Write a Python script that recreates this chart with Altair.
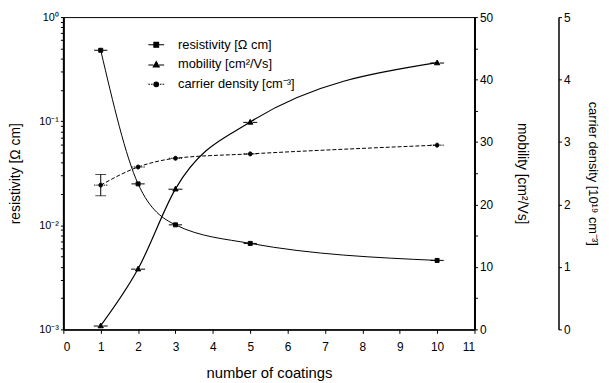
import altair as alt
import pandas as pd

coatings = [1, 2, 3, 5, 10]
resistivity = [0.48, 0.025, 0.0101, 0.0067, 0.0046]
mobility = [0.6, 9.7, 22.5, 33.2, 42.7]
carrier = [2.31, 2.60, 2.74, 2.81, 2.95]
err_x = [1]
err_lo = [2.14]
err_hi = [2.48]

series = ["resistivity [Ω cm]", "mobility [cm²/Vs]", "carrier density [cm⁻³]"]
x_ticks = list(range(12))
res_ticks = [m * 10 ** e for e in (-3, -2, -1) for m in range(1, 10)] + [1]
mob_ticks = [v * 5 for v in range(11)]
car_ticks = [v * 0.5 for v in range(11)]

FONT = "Liberation Sans"

sq = "M-1,0H-0.32M0.32,0H1M-0.3,-0.3H0.3V0.3H-0.3Z"
tri = "M-1,0.05H-0.36M0.36,0.05H1M0,-0.38L0.38,0.3H-0.38Z"
circ = ("M-1,0H-0.8M-0.66,0H-0.46M0.46,0H0.66M0.8,0H1"
        "M-0.3,0A0.3,0.3,0,1,0,0.3,0A0.3,0.3,0,1,0,-0.3,0Z")

df_res = pd.DataFrame({"coatings": coatings, "resistivity": resistivity, "series": series[0]})
df_mob = pd.DataFrame({"coatings": coatings, "mobility": mobility, "series": series[1]})
df_car = pd.DataFrame({"coatings": coatings, "carrier": carrier, "series": series[2]})
df_err = pd.DataFrame({"coatings": err_x, "lo": err_lo, "hi": err_hi})

x = alt.X(
    "coatings:Q",
    scale=alt.Scale(domain=[0, 11], nice=False, zero=False),
    axis=alt.Axis(values=x_ticks, title="number of coatings", format="d",
                  labelFontSize=12, titleFontSize=15, tickSize=4, labelPadding=8,
                  titlePadding=14, domainWidth=1.5),
)

shape = alt.Shape(
    "series:N",
    scale=alt.Scale(domain=series, range=[sq, tri, circ]),
    legend=alt.Legend(orient="none", legendX=85, legendY=19, title=None,
                      symbolSize=256, symbolStrokeWidth=1.1,
                      labelFontSize=13, labelFont=FONT,
                      labelOffset=13, rowPadding=4, padding=0),
)

pt = dict(filled=False, fill="black", stroke="black", fillOpacity=1, strokeOpacity=1,
          strokeWidth=1)

res_y = alt.Y(
    "resistivity:Q",
    scale=alt.Scale(type="log", domain=[0.001, 1], nice=False),
    axis=alt.Axis(orient="left", values=res_ticks, title="resistivity [Ω cm]",
                  labelExpr="datum.value == 1 ? '10⁰' : datum.value == 0.1 ? '10⁻¹' : datum.value == 0.01 ? '10⁻²' : datum.value == 0.001 ? '10⁻³' : ''",
                  labelFontSize=11, titleFontSize=14, tickSize=3, labelPadding=2,
                  titlePadding=16, domainWidth=2),
)
res_base = alt.Chart(df_res).encode(x=x, y=res_y)
res_layer = alt.layer(
    res_base.mark_line(color="black", strokeWidth=1, interpolate="monotone"),
    res_base.mark_point(size=180, **pt).encode(shape=shape),
)

mob_y = alt.Y(
    "mobility:Q",
    scale=alt.Scale(domain=[0, 50], nice=False),
    axis=alt.Axis(orient="right", values=mob_ticks, title="mobility [cm²/Vs]",
                  labelExpr="datum.value % 10 == 0 ? datum.label : ''", format="d",
                  labelFontSize=12, titleFontSize=14, tickSize=3, labelPadding=2,
                  titlePadding=22, domainWidth=2),
)
mob_base = alt.Chart(df_mob).encode(x=x, y=mob_y)
mob_layer = alt.layer(
    mob_base.mark_line(color="black", strokeWidth=1.2, interpolate="monotone"),
    mob_base.mark_point(size=200, **pt).encode(shape=shape),
)

car_title = "carrier density [10¹⁹ cm⁻³]"
car_scale = alt.Scale(domain=[0, 5], nice=False)
car_axis = alt.Axis(orient="right", offset=85, values=car_ticks, title=car_title,
                    labelExpr="datum.value % 1 == 0 ? datum.label : ''", format="d",
                    labelFontSize=12, titleFontSize=13, tickSize=3, labelPadding=2,
                    titlePadding=16, domainWidth=1.5)
car_base = alt.Chart(df_car).encode(x=x, y=alt.Y("carrier:Q", scale=car_scale, axis=car_axis, title=car_title))
car_layer = alt.layer(
    car_base.mark_line(color="black", strokeWidth=1, strokeDash=[4, 2], interpolate="monotone"),
    car_base.mark_point(size=180, **pt).encode(shape=shape),
    alt.Chart(df_err).mark_errorbar(ticks=True, size=11, thickness=1, color="black").encode(
        x=x, y=alt.Y("lo:Q", scale=car_scale, axis=car_axis, title=car_title), y2="hi:Q"),
)

chart = (
    alt.layer(res_layer, mob_layer, car_layer)
    .resolve_scale(y="independent")
    .properties(width=416, height=316, autosize=alt.AutoSizeParams(type="none"),
                padding={"left": 56, "top": 7, "right": 128, "bottom": 50})
    .configure_view(stroke="black", strokeWidth=1)
    .configure_axis(labelFont=FONT, titleFont=FONT, labelColor="black", titleColor="black",
                    domainColor="black", tickColor="black", grid=False, titleFontWeight="normal")
)

chart.save("out.html", embed_options={"renderer": "svg", "actions": False})
